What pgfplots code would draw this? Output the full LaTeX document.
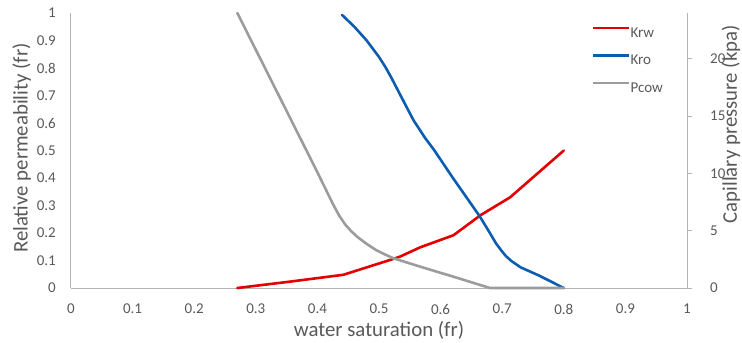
\documentclass[border=0pt]{standalone}
\usepackage{pgfplots}
\pgfplotsset{compat=1.18}
\usepackage{fontspec}
\setmainfont{Carlito}

\definecolor{krwred}{HTML}{E30000}
\definecolor{kroblue}{HTML}{0C5DB0}
\definecolor{pcowgray}{HTML}{9C9C9C}
\definecolor{axisgray}{HTML}{B4B4B4}
\definecolor{labelgray}{HTML}{595959}

\newcommand{\tickfont}{\fontsize{15bp}{18bp}\selectfont}
\newcommand{\titlefont}{\fontsize{20.8bp}{25bp}\selectfont}

\pgfplotsset{
  common/.style={
    at={(0,0)}, anchor=south west,
    scale only axis, width=616bp, height=275bp,
    xmin=0, xmax=1,
    axis line style={draw=axisgray, line width=1bp, -},
    tick label style={font=\tickfont, text=labelgray},
    /pgf/number format/assume math mode=true,
    clip=false,
  },
  curve/.style={line width=2.6bp, line join=round, line cap=round},
}

\begin{document}
\begin{tikzpicture}
\useasboundingbox (-71bp,-55bp) rectangle (671bp,288bp);

% relative permeability curves (left axis)
\begin{axis}[
  common,
  ymin=0, ymax=1,
  axis x line*=bottom, axis y line*=left,
  xtick={0,0.1,0.2,0.3,0.4,0.5,0.6,0.7,0.8,0.9,1},
  ytick={0,0.1,0.2,0.3,0.4,0.5,0.6,0.7,0.8,0.9,1},
  major tick length=0pt,
  xticklabel style={anchor=north, inner sep=0pt, yshift=-16bp},
  yticklabel style={anchor=east, inner sep=0pt, xshift=-15bp},
  xlabel={water saturation (fr)},
  ylabel={Relative permeability (fr)},
  every axis x label/.style={at={(axis description cs:0.5,-0.153)}, anchor=center,
    font=\titlefont, text=labelgray},
  every axis y label/.style={at={(axis description cs:-0.08,0.509)}, anchor=center, rotate=90,
    font=\titlefont, text=labelgray},
  legend style={
    at={(axis description cs:0.8458,0.95)}, anchor=north west,
    draw=none, fill=none, inner sep=0pt, outer sep=0pt,
    font=\tickfont, text=labelgray, row sep=17bp,
    nodes={inner sep=0pt, text height=9.5bp, text depth=0pt},
  },
  legend cell align=left,
  /tikz/every even column/.append style={column sep=3bp},
  legend image code/.code={\draw[#1, line width=2.6bp, line cap=butt] (0bp,4.5bp) -- (36bp,4.5bp);},
]
\addplot[curve, krwred] coordinates {
  (0.270,0.000) (0.355,0.023) (0.442,0.048) (0.480,0.075) (0.518,0.102)
  (0.534,0.114) (0.567,0.148) (0.621,0.192) (0.665,0.265) (0.713,0.330)
  (0.800,0.500)
};
\addlegendentry{Krw}
\addplot[curve, kroblue] coordinates {
  (0.440,0.993) (0.460,0.950) (0.480,0.900) (0.500,0.840) (0.510,0.805)
  (0.520,0.765) (0.535,0.700) (0.556,0.610) (0.575,0.545) (0.590,0.500)
  (0.620,0.400) (0.645,0.320) (0.664,0.259) (0.680,0.200) (0.690,0.162)
  (0.698,0.138) (0.706,0.116) (0.715,0.098) (0.730,0.075) (0.760,0.045)
  (0.800,0.000)
};
\addlegendentry{Kro}
\addlegendimage{curve, pcowgray}
\addlegendentry{Pcow}
\end{axis}

% capillary pressure curve (right axis)
\begin{axis}[
  common,
  ymin=0, ymax=24,
  axis x line=none, axis y line*=right,
  ytick={0,5,10,15,20},
  tick align=outside, major tick length=5bp,
  tick style={draw=axisgray, line width=1bp},
  yticklabel style={anchor=west, inner sep=0pt, xshift=18bp},
  ylabel={Capillary pressure (kpa)},
  every axis y label/.style={at={(axis description cs:1.0714,0.595)}, anchor=center, rotate=90,
    font=\titlefont, text=labelgray},
]
\addplot[curve, pcowgray] coordinates {
  (0.270,24.00) (0.400,10.10) (0.415,8.45) (0.425,7.35) (0.435,6.35)
  (0.445,5.55) (0.455,4.95) (0.465,4.45) (0.480,3.85) (0.495,3.32)
  (0.510,2.92) (0.523,2.60) (0.567,1.86) (0.620,1.00) (0.680,0.00)
  (0.800,0.00)
};
\end{axis}
\end{tikzpicture}
\end{document}
